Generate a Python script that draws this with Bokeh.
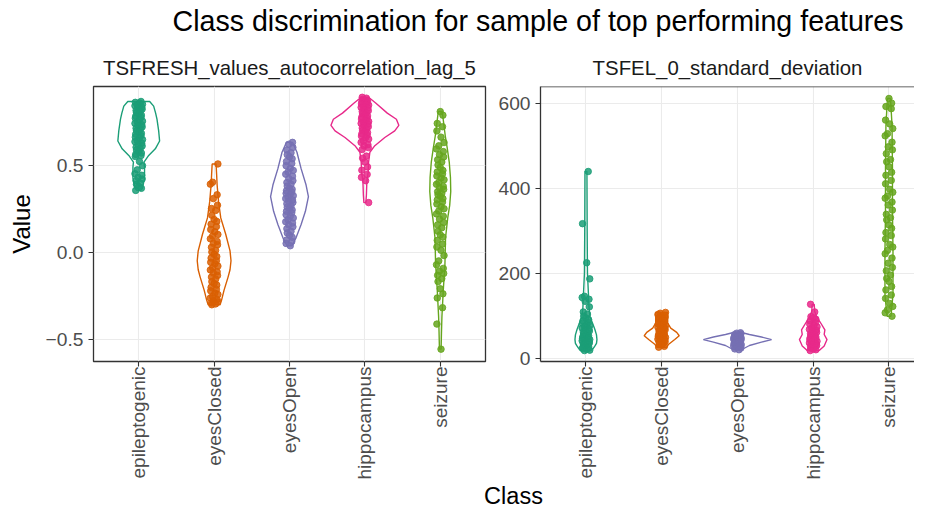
import math
from bokeh.plotting import figure
from bokeh.layouts import column, row
from bokeh.models import Range1d, FixedTicker, ColumnDataSource, Span
from bokeh.embed import file_html
from bokeh.resources import INLINE
from bokeh.core.properties import value

TITLE = "Class discrimination for sample of top performing features"
X_LABEL = "Class"
Y_LABEL = "Value"
CLASSES = ["epileptogenic", "eyesClosed", "eyesOpen", "hippocampus", "seizure"]
COLORS = ["#1B9E77", "#D95F02", "#7570B3", "#E7298A", "#66A61E"]

# ---------------- facet 1: TSFRESH_values_autocorrelation_lag_5 ----------------
F1_NAME = "TSFRESH_values_autocorrelation_lag_5"
F1_TICKS = [-0.5, 0.0, 0.5]
F1_TICK_LABELS = ["\u22120.5", "0.0", "0.5"]

f1_epileptogenic = [0.867, 0.862, 0.858, 0.851, 0.846, 0.842, 0.834, 0.829, 0.823, 0.815, 0.811, 0.803,
                    0.797, 0.788, 0.782, 0.776, 0.771, 0.762, 0.754, 0.749, 0.741, 0.733, 0.729, 0.721,
                    0.713, 0.708, 0.699, 0.692, 0.684, 0.679, 0.671, 0.662, 0.657, 0.648, 0.641, 0.636,
                    0.627, 0.618, 0.611, 0.604, 0.596, 0.588, 0.579, 0.571, 0.563, 0.556, 0.551, 0.522,
                    0.498, 0.474, 0.452, 0.443, 0.431, 0.421, 0.412, 0.398, 0.391, 0.379, 0.368, 0.356]
f1_eyesClosed = [0.508, 0.403, 0.392, 0.331, 0.309, 0.271, 0.252, 0.241, 0.213, 0.189, 0.178, 0.162,
                 0.148, 0.131, 0.118, 0.103, 0.094, 0.078, 0.063, 0.052, 0.044, 0.029, 0.012, 0.002,
                 -0.011, -0.024, -0.033, -0.048, -0.057, -0.066, -0.079, -0.088, -0.101, -0.112,
                 -0.119, -0.133, -0.142, -0.154, -0.168, -0.179, -0.188, -0.201, -0.213, -0.221,
                 -0.234, -0.242, -0.253, -0.262, -0.271, -0.279, -0.284, -0.291, -0.296, -0.301]
f1_eyesOpen = [0.632, 0.621, 0.603, 0.588, 0.572, 0.561, 0.549, 0.538, 0.522, 0.511, 0.498, 0.483,
               0.471, 0.462, 0.449, 0.438, 0.424, 0.412, 0.401, 0.392, 0.381, 0.369, 0.362, 0.354,
               0.347, 0.339, 0.333, 0.326, 0.318, 0.309, 0.301, 0.293, 0.287, 0.279, 0.268, 0.259,
               0.252, 0.244, 0.236, 0.228, 0.216, 0.207, 0.198, 0.187, 0.176, 0.169, 0.158, 0.147,
               0.136, 0.121, 0.112, 0.098, 0.087, 0.071, 0.062, 0.051, 0.038]
f1_hippocampus = [0.891, 0.886, 0.879, 0.874, 0.869, 0.866, 0.859, 0.853, 0.849, 0.846, 0.838, 0.833,
                  0.829, 0.821, 0.814, 0.809, 0.802, 0.796, 0.791, 0.784, 0.778, 0.771, 0.766, 0.759,
                  0.752, 0.746, 0.741, 0.736, 0.729, 0.722, 0.714, 0.709, 0.701, 0.694, 0.688, 0.681,
                  0.673, 0.668, 0.659, 0.651, 0.641, 0.632, 0.619, 0.611, 0.602, 0.591, 0.553, 0.541,
                  0.519, 0.491, 0.472, 0.448, 0.431, 0.412, 0.286]
f1_seizure = [0.809, 0.788, 0.741, 0.722, 0.698, 0.662, 0.631, 0.612, 0.594, 0.579, 0.561, 0.548,
              0.532, 0.519, 0.502, 0.488, 0.471, 0.462, 0.451, 0.439, 0.428, 0.417, 0.402, 0.391,
              0.379, 0.371, 0.362, 0.349, 0.338, 0.331, 0.322, 0.309, 0.301, 0.289, 0.278, 0.262,
              0.251, 0.238, 0.221, 0.208, 0.191, 0.172, 0.158, 0.141, 0.122, 0.101, 0.088, 0.069,
              0.048, 0.031, 0.012, -0.018, -0.049, -0.071, -0.092, -0.108, -0.121, -0.132, -0.151,
              -0.168, -0.209, -0.238, -0.262, -0.318, -0.412, -0.556]

# violin outlines: values (top -> bottom) and half widths (category units)
f1_violin_v = [
    [0.867, 0.84, 0.80, 0.765, 0.70, 0.64, 0.595, 0.557, 0.519, 0.49, 0.425, 0.39, 0.368, 0.356],
    [0.508, 0.45, 0.387, 0.29, 0.198, 0.104, 0.009, -0.048, -0.10, -0.142, -0.217, -0.274, -0.301],
    [0.632, 0.575, 0.481, 0.387, 0.32, 0.236, 0.16, 0.085, 0.038],
    [0.891, 0.858, 0.80, 0.765, 0.73, 0.698, 0.66, 0.613, 0.575, 0.519, 0.462, 0.405, 0.33, 0.286],
    [0.809, 0.74, 0.67, 0.60, 0.519, 0.43, 0.35, 0.27, 0.198, 0.085, -0.066, -0.217, -0.368, -0.46, -0.556],
]
f1_violin_w = [
    [0.145, 0.198, 0.224, 0.242, 0.264, 0.277, 0.220, 0.132, 0.070, 0.077, 0.077, 0.059, 0.050, 0.026],
    [0.026, 0.033, 0.040, 0.059, 0.088, 0.154, 0.211, 0.224, 0.211, 0.185, 0.132, 0.099, 0.079],
    [0.040, 0.099, 0.154, 0.220, 0.251, 0.211, 0.154, 0.088, 0.033],
    [0.049, 0.143, 0.297, 0.418, 0.450, 0.396, 0.264, 0.132, 0.066, 0.049, 0.044, 0.026, 0.020, 0.013],
    [0.026, 0.046, 0.066, 0.092, 0.119, 0.135, 0.139, 0.125, 0.099, 0.070, 0.062, 0.040, 0.022, 0.016, 0.011],
]

# ---------------- facet 2: TSFEL_0_standard_deviation ----------------
F2_NAME = "TSFEL_0_standard_deviation"
F2_TICKS = [0, 200, 400, 600]
F2_TICK_LABELS = ["0", "200", "400", "600"]

f2_epileptogenic = [440, 317, 225, 187, 146, 143, 139, 134, 121, 109, 104, 99, 95, 91, 88, 84, 82, 79,
                    77, 74, 71, 69, 67, 64, 62, 59, 57, 55, 53, 51, 49, 47, 46, 44, 43, 41, 39, 38,
                    36, 34, 33, 31, 29, 28, 26, 24, 23, 21, 19, 18]
f2_eyesClosed = [108, 106, 103, 101, 99, 97, 96, 93, 91, 89, 88, 85, 83, 81, 79, 77, 76, 73, 71, 69,
                 67, 65, 63, 62, 59, 57, 56, 54, 52, 51, 49, 47, 45, 43, 41, 39, 38, 35, 33, 31, 28, 26]
f2_eyesOpen = [60, 59, 57, 56, 55, 54, 53, 52, 51, 50, 49, 48, 47, 46, 45, 44, 43, 42, 41, 40, 39,
               38, 37, 36, 35, 34, 33, 32, 31, 29, 28, 26, 24, 22, 20]
f2_hippocampus = [127, 109, 98, 95, 92, 88, 84, 80, 77, 74, 71, 68, 66, 63, 61, 58, 56, 54, 52, 50,
                  48, 46, 44, 42, 40, 38, 36, 34, 32, 30, 28, 26, 24, 22, 20, 18]
f2_seizure = [612, 601, 593, 588, 561, 552, 541, 529, 524, 509, 498, 491, 482, 468, 463, 451, 438,
              431, 419, 411, 398, 391, 382, 377, 368, 361, 349, 339, 331, 326, 314, 306, 296, 289,
              281, 268, 262, 254, 246, 236, 224, 214, 206, 196, 188, 181, 169, 161, 149, 141, 129,
              122, 114, 107, 99]

f2_violin_v = [
    [440, 300, 200, 150, 120, 98, 83, 67, 55, 44, 35, 29, 22, 18],
    [108, 98, 83, 71, 61, 53, 44, 33, 26],
    [60, 56, 50, 44, 38, 30, 20],
    [127, 110, 98, 83, 67, 56, 44, 29, 18],
    [612, 550, 450, 350, 250, 150, 99],
]
f2_violin_w = [
    [0.013, 0.016, 0.020, 0.033, 0.040, 0.053, 0.086, 0.119, 0.139, 0.145, 0.139, 0.119, 0.092, 0.066],
    [0.077, 0.079, 0.079, 0.119, 0.198, 0.231, 0.172, 0.092, 0.066],
    [0.066, 0.158, 0.317, 0.450, 0.317, 0.158, 0.053],
    [0.013, 0.020, 0.046, 0.099, 0.154, 0.145, 0.182, 0.145, 0.079],
    [0.020, 0.040, 0.046, 0.046, 0.053, 0.053, 0.026],
]

# small horizontal jitter pattern (category units), cycled over points
JITTER = [0.03, -0.045, 0.01, 0.05, -0.02, -0.05, 0.04, -0.01, 0.045, -0.035, 0.02, -0.03, 0.0, 0.035, -0.04]

FONT = "Liberation Sans"


def style_panel(p, yticks, ylabels):
    xt = FixedTicker(ticks=[i + 1 for i in range(len(CLASSES))])
    yt = FixedTicker(ticks=yticks)
    p.xaxis.ticker = xt
    p.xgrid.ticker = xt
    p.yaxis.ticker = yt
    p.ygrid.ticker = yt
    p.xaxis.major_label_overrides = {i + 1: c for i, c in enumerate(CLASSES)}
    p.yaxis.major_label_overrides = {t: l for t, l in zip(yticks, ylabels)}
    p.xaxis.major_label_orientation = math.pi / 2
    p.xaxis.major_label_standoff = 0
    for ax in (p.xaxis, p.yaxis):
        ax.major_label_text_font = FONT
        ax.major_label_text_color = "#4D4D4D"
        ax.major_tick_line_color = "#333333"
        ax.major_tick_line_width = 1.1
        ax.major_tick_out = 5
        ax.major_tick_in = 0
        ax.minor_tick_line_color = None
    p.xaxis.major_label_text_font_size = "19px"
    p.yaxis.major_label_text_font_size = "19.2px"
    p.grid.grid_line_color = "#EBEBEB"
    p.grid.grid_line_width = 1.1
    p.background_fill_color = "white"
    p.border_fill_color = "white"


def add_title(p, text):
    p.title.text = text
    p.title.align = "center"
    p.title.text_font = FONT
    p.title.text_font_size = "20.4px"
    p.title.text_font_style = "normal"
    p.title.text_color = "#1A1A1A"
    p.title.standoff = 15


def add_data(p, groups, vv, ww):
    vxs, vys, vcol = [], [], []
    px, py, pcol = [], [], []
    for i, cls in enumerate(CLASSES):
        pos = i + 1
        vals, half = vv[i], ww[i]
        vxs.append([pos + w for w in half] + [pos - w for w in reversed(half)])
        vys.append(list(vals) + list(reversed(vals)))
        vcol.append(COLORS[i])
        for k, v in enumerate(groups[i]):
            px.append(pos + JITTER[(k + 3 * i) % len(JITTER)])
            py.append(v)
            pcol.append(COLORS[i])
    p.patches(xs="xs", ys="ys", line_color="c", fill_color=None, line_width=1.4,
              source=ColumnDataSource(dict(xs=vxs, ys=vys, c=vcol)))
    p.scatter(x="x", y="y", color="c", size=6.5, alpha=0.85,
              source=ColumnDataSource(dict(x=px, y=py, c=pcol)))


ROW_H = 436
TOP_B = 40
BOT_B = 120

# ---------- panel 1 ----------
p1 = figure(width=490, height=ROW_H, x_range=Range1d(0.4, 5.6), y_range=Range1d(-0.627, 0.953),
            output_backend="svg", toolbar_location=None,
            min_border_left=93, min_border_right=5, min_border_top=TOP_B, min_border_bottom=BOT_B)
style_panel(p1, F1_TICKS, F1_TICK_LABELS)
add_title(p1, F1_NAME)
p1.outline_line_color = "#333333"
p1.outline_line_width = 1.3
p1.xaxis.axis_line_color = None
p1.yaxis.axis_line_color = None
p1.yaxis.axis_label = Y_LABEL
p1.yaxis.axis_label_text_font = FONT
p1.yaxis.axis_label_text_font_size = "24px"
p1.yaxis.axis_label_text_font_style = "normal"
p1.yaxis.axis_label_text_color = "black"
p1.yaxis.axis_label_standoff = 8
add_data(p1, [f1_epileptogenic, f1_eyesClosed, f1_eyesOpen, f1_hippocampus, f1_seizure],
         f1_violin_v, f1_violin_w)

# ---------- panel 2 (right edge cut off as in the original) ----------
p2 = figure(width=424, height=ROW_H, x_range=Range1d(0.4, 5.337), y_range=Range1d(-7.7, 640.2),
            output_backend="svg", toolbar_location=None,
            min_border_left=50, min_border_right=0, min_border_top=TOP_B, min_border_bottom=BOT_B)
style_panel(p2, F2_TICKS, F2_TICK_LABELS)
add_title(p2, F2_NAME)
p2.outline_line_color = None
p2.xaxis.axis_line_color = "#333333"
p2.yaxis.axis_line_color = "#333333"
p2.xaxis.axis_line_width = 1.3
p2.yaxis.axis_line_width = 1.3
p2.add_layout(Span(location=p2.y_range.end, dimension="width", line_color="#333333", line_width=1.3))
add_data(p2, [f2_epileptogenic, f2_eyesClosed, f2_eyesOpen, f2_hippocampus, f2_seizure],
         f2_violin_v, f2_violin_w)

# ---------- header (main title) and footer (x axis title) ----------
head = figure(width=914, height=46, x_range=Range1d(0, 914), y_range=Range1d(0, 46), title=None,
              output_backend="svg", toolbar_location=None, x_axis_location=None,
              y_axis_location=None, min_border=0)
head.grid.visible = False
head.outline_line_color = None
head.text(x=[537.5], y=[26], text=[TITLE], text_align="center", text_baseline="alphabetic",
          text_font=value(FONT), text_font_size="28.6px", text_color="black")

foot = figure(width=914, height=27, x_range=Range1d(0, 914), y_range=Range1d(0, 27), title=None,
              output_backend="svg", toolbar_location=None, x_axis_location=None,
              y_axis_location=None, min_border=0)
foot.grid.visible = False
foot.outline_line_color = None
foot.text(x=[513], y=[13.7], text=[X_LABEL], text_align="center", text_baseline="alphabetic",
          text_font=value(FONT), text_font_size="23.5px", text_color="black")

layout = column(head, row(p1, p2), foot)
open("out.html", "w").write(file_html(layout, INLINE))
